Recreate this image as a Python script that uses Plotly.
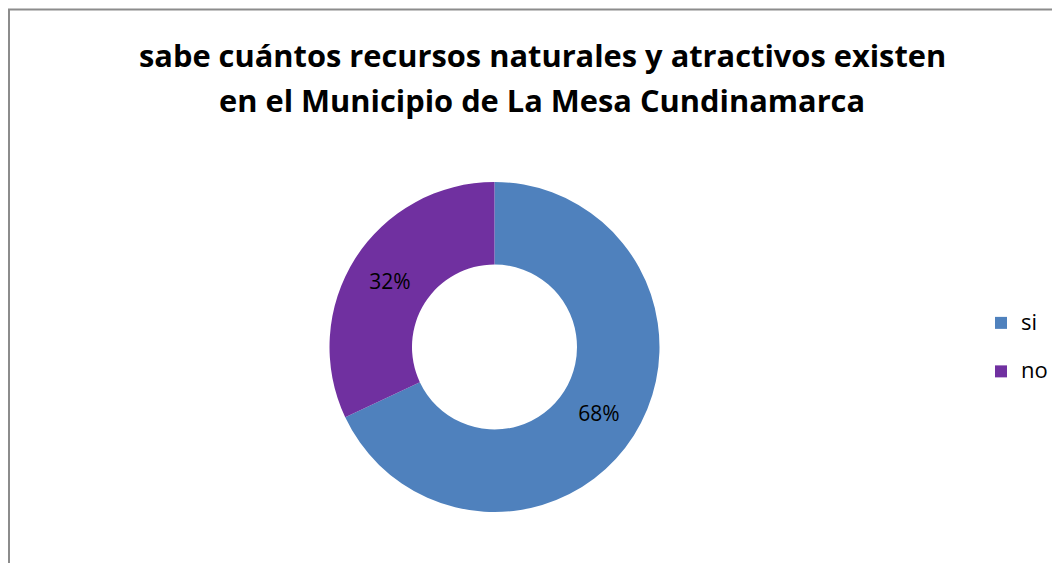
import plotly.graph_objects as go

labels = ["si", "no"]
values = [68, 32]
colors = ["#4F81BD", "#7030A0"]
title_lines = ["sabe cuántos recursos naturales y atractivos existen",
               "en el Municipio de La Mesa Cundinamarca"]

W, H = 1060, 563
OFF = 8  # page body margin


def px(x):
    return (x - OFF) / W


def py(y):
    return (H - (y - OFF)) / H


legend_labels = ["<span style='font-size:22px'>%s</span><br> " % l for l in labels]

fig = go.Figure(go.Pie(
    labels=legend_labels, values=values, hole=0.5, sort=False,
    direction="clockwise", rotation=0,
    marker=dict(colors=colors, line=dict(width=0)),
    textinfo="percent", textposition="inside", insidetextorientation="horizontal",
    textfont=dict(family="Open Sans", size=21, color="black"),
    domain=dict(x=[px(329), px(660)], y=[py(512), py(182)]),
))
fig.update_layout(
    width=W, height=H, margin=dict(l=0, r=0, t=0, b=0),
    paper_bgcolor="white", plot_bgcolor="white",
    font=dict(family="Open Sans"),
    showlegend=True,
    legend=dict(x=px(981), y=py(305), xanchor="left", yanchor="top", valign="top",
                font=dict(size=17.5, color="black"), itemwidth=30,
                tracegroupgap=0),
    annotations=[dict(text=t, x=px(542), y=py(yy),
                      xref="paper", yref="paper", showarrow=False,
                      font=dict(family="Open Sans", size=30.8, color="black", weight="bold"),
                      align="center", xanchor="center", yanchor="middle")
                 for t, yy in zip(title_lines, [55, 100])],
    shapes=[dict(type="rect", xref="paper", yref="paper",
                 x0=px(9), x1=1.05, y0=-0.05, y1=py(9.5),
                 line=dict(color="#8C8C8C", width=2), fillcolor="rgba(0,0,0,0)")],
)
fig.write_html("out.html")
